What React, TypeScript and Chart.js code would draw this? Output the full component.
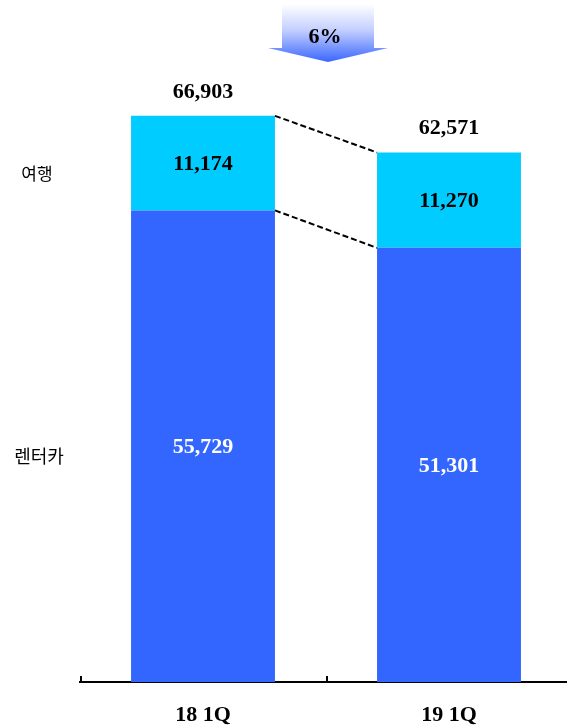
import React, { useEffect, useRef } from "react";
import { Chart, registerables } from "chart.js";

Chart.register(...registerables);

const categories = ["18 1Q", "19 1Q"];
const rentalValues = [55729, 51301];
const travelValues = [11174, 11270];
const seriesNames = ["렌터카", "여행"];
const totalLabels = ["66,903", "62,571"];
const changeLabel = "6%";

const BLUE = "#3366FF";
const CYAN = "#00CCFF";
const SERIF = "'Liberation Serif', 'DejaVu Serif', serif";
const SANS = "'Noto Sans CJK KR', 'Noto Sans', sans-serif";

const fmt = (v: number) => v.toLocaleString("en-US");

const overlayPlugin = {
  id: "overlay",
  afterDatasetsDraw(chart: any) {
    const ctx = chart.ctx as CanvasRenderingContext2D;
    const xs = chart.scales.x;
    const area = chart.chartArea;
    const m0 = chart.getDatasetMeta(0).data;
    const m1 = chart.getDatasetMeta(1).data;
    ctx.save();

    // dashed connectors
    ctx.strokeStyle = "#000";
    ctx.lineWidth = 2;
    ctx.setLineDash([6, 3]);
    const a0 = m1[0], a1 = m1[1];
    const hw0 = a0.width / 2, hw1 = a1.width / 2;
    ctx.beginPath();
    ctx.moveTo(a0.x + hw0, a0.y);
    ctx.lineTo(a1.x - hw1, a1.y);
    ctx.moveTo(a0.x + hw0, m0[0].y);
    ctx.lineTo(a1.x - hw1, m0[1].y);
    ctx.stroke();
    ctx.setLineDash([]);

    // value labels
    ctx.textAlign = "center";
    ctx.textBaseline = "middle";
    ctx.font = `bold 22px ${SERIF}`;
    for (let i = 0; i < categories.length; i++) {
      const b = m0[i];
      ctx.fillStyle = "#fff";
      ctx.fillText(fmt(rentalValues[i]), b.x, (b.y + b.base) / 2 + 1);
      const t = m1[i];
      ctx.fillStyle = "#000";
      ctx.fillText(fmt(travelValues[i]), t.x, (t.y + t.base) / 2 + 1);
      ctx.fillText(totalLabels[i], t.x, t.y - 24);
    }

    // axis tick marks (upward) at category boundaries
    ctx.strokeStyle = "#000";
    ctx.lineWidth = 2;
    ctx.beginPath();
    const step = xs.getPixelForValue(1) - xs.getPixelForValue(0);
    for (let i = 0; i < categories.length; i++) {
      const x = xs.getPixelForValue(i) - step / 2;
      ctx.moveTo(x + 1, area.bottom);
      ctx.lineTo(x + 1, area.bottom - 6);
    }
    ctx.stroke();

    // left series labels
    ctx.fillStyle = "#000";
    ctx.textAlign = "center";
    ctx.font = `17px ${SANS}`;
    ctx.fillText(seriesNames[1], 37, 174);
    ctx.font = `18px ${SANS}`;
    ctx.fillText(seriesNames[0], 39, 456);

    // down arrow
    const cx = (a0.x + hw0 + a1.x - hw1) / 2 + 2;
    const top = 4, neck = 48, tip = 62;
    const g = ctx.createLinearGradient(0, top, 0, tip);
    g.addColorStop(0, "#ffffff");
    g.addColorStop(0.45, "#c4cfff");
    g.addColorStop(1, "#3a66ff");
    ctx.fillStyle = g;
    ctx.beginPath();
    ctx.moveTo(cx - 46, top);
    ctx.lineTo(cx + 46, top);
    ctx.lineTo(cx + 46, neck);
    ctx.lineTo(cx + 60, neck);
    ctx.lineTo(cx, tip);
    ctx.lineTo(cx - 60, neck);
    ctx.lineTo(cx - 46, neck);
    ctx.closePath();
    ctx.fill();
    ctx.fillStyle = "#000";
    ctx.font = `bold 22px ${SERIF}`;
    ctx.fillText(changeLabel, cx - 3, 37);

    ctx.restore();
  },
};

export default function App() {
  const ref = useRef<HTMLCanvasElement | null>(null);
  useEffect(() => {
    if (!ref.current) return;
    const chart = new Chart(ref.current, {
      type: "bar",
      data: {
        labels: categories,
        datasets: [
          { label: seriesNames[0], data: rentalValues, backgroundColor: BLUE },
          { label: seriesNames[1], data: travelValues, backgroundColor: CYAN },
        ],
      },
      options: {
        animation: false,
        responsive: true,
        maintainAspectRatio: false,
        layout: { padding: { left: 80, right: 0, top: 5, bottom: 0 } },
        datasets: { bar: { barPercentage: 0.585, categoryPercentage: 1 } },
        plugins: { legend: { display: false }, tooltip: { enabled: false } },
        scales: {
          x: {
            stacked: true,
            grid: { display: false, drawTicks: false },
            border: { display: true, color: "#000", width: 2 },
            ticks: { color: "#000", padding: 20, font: { family: SERIF, size: 22, weight: "bold" } },
            afterFit: (s: any) => { s.height = 46; },
          },
          y: { stacked: true, display: false, min: 0, max: 80000 },
        },
      },
      plugins: [overlayPlugin],
    });
    return () => chart.destroy();
  }, []);
  return (
    <div style={{ position: "absolute", left: 0, top: 0, width: 567, height: 728, overflow: "hidden", background: "#fff" }}>
      <div style={{ position: "relative", width: 572, height: 728 }}>
        <canvas ref={ref} />
      </div>
    </div>
  );
}
